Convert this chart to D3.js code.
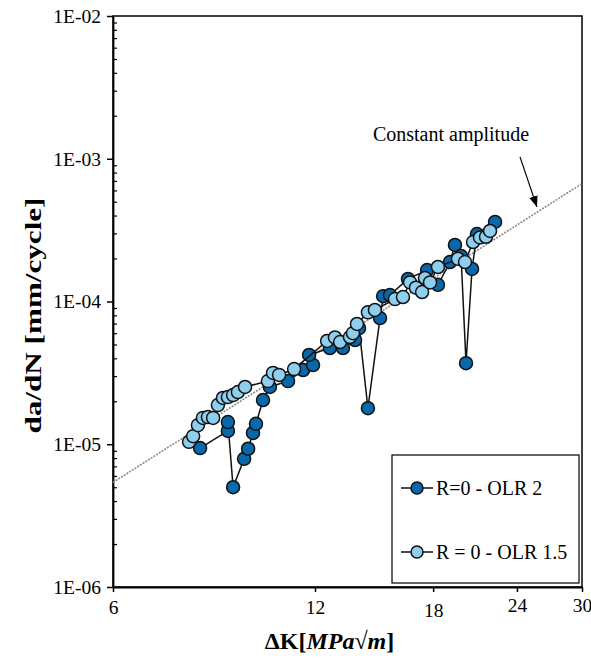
<!DOCTYPE html>
<html lang="en">
<head>
<meta charset="UTF-8">
<title>da/dN vs dK</title>
<script src="https://d3js.org/d3.v7.min.js"></script>
<style>
  body { margin: 0; background: #fff; }
  text { font-family: "Liberation Serif", "Times New Roman", serif; fill: #000; }
</style>
</head>
<body>
<div id="chart"></div>
<script>
// series: R=0 - OLR 2
const kDark = [8.09, 8.90, 8.90, 9.06, 9.41, 9.54, 9.70, 9.80, 10.04, 10.28, 10.94, 11.52, 11.92, 11.76,
  12.63, 13.21, 13.77, 13.96, 14.39, 15.00, 15.16, 15.52, 16.51, 17.63, 18.30, 19.07, 19.40, 19.81,
  20.15, 20.57, 20.92, 22.26];
const rateDark = [9.4e-6, 1.24e-5, 1.43e-5, 5.0e-6, 7.9e-6, 9.3e-6, 1.2e-5, 1.39e-5, 2.04e-5, 2.52e-5,
  2.77e-5, 3.31e-5, 3.59e-5, 4.22e-5, 4.72e-5, 4.72e-5, 5.37e-5, 6.5e-5, 1.79e-5, 7.66e-5, 1.09e-4,
  1.11e-4, 1.44e-4, 1.66e-4, 1.31e-4, 1.89e-4, 2.49e-4, 2.08e-4, 3.7e-5, 1.69e-4, 2.97e-4, 3.61e-4];

// series: R = 0 - OLR 1.5
const kLight = [7.79, 7.90, 8.03, 8.17, 8.31, 8.46, 8.60, 8.75, 8.90, 9.06, 9.21, 9.44, 10.21, 10.39,
  10.61, 11.17, 12.51, 12.85, 13.08, 13.53, 13.67, 13.86, 14.39, 14.74, 15.79, 16.23, 16.63, 16.97,
  17.33, 17.50, 17.81, 18.30, 19.60, 20.08, 20.64, 21.14, 21.58, 21.88];
const rateLight = [1.04e-5, 1.14e-5, 1.36e-5, 1.53e-5, 1.55e-5, 1.53e-5, 1.88e-5, 2.11e-5, 2.14e-5,
  2.21e-5, 2.32e-5, 2.52e-5, 2.77e-5, 3.16e-5, 3.06e-5, 3.36e-5, 5.29e-5, 5.6e-5, 5.2e-5, 5.64e-5,
  6.0e-5, 6.96e-5, 8.4e-5, 8.72e-5, 1.04e-4, 1.075e-4, 1.36e-4, 1.25e-4, 1.165e-4, 1.46e-4, 1.36e-4,
  1.745e-4, 1.99e-4, 1.89e-4, 2.61e-4, 2.81e-4, 2.84e-4, 3.12e-4];

// constant amplitude reference line
const kConst = [6, 30];
const rateConst = [5.4e-6, 6.7e-4];

const xTicks = [6, 12, 18, 24, 30];
const yTicks = [1e-6, 1e-5, 1e-4, 1e-3, 1e-2];
const seriesNames = ["R=0 - OLR 2", "R = 0 - OLR 1.5"];

const margin = {top: 16, right: 9, bottom: 74, left: 113},
  width = 591 - margin.left - margin.right,
  height = 661 - margin.top - margin.bottom;

const svg = d3.select("#chart").append("svg")
    .attr("width", 591)
    .attr("height", 661)
  .append("g")
    .attr("transform", `translate(${margin.left},${margin.top})`);

const x = d3.scaleLog().domain([6, 30]).range([0, width]);
const y = d3.scaleLog().domain([1e-6, 1e-2]).range([height, 0]);

// plot frame
svg.append("rect")
  .attr("width", width).attr("height", height)
  .attr("fill", "none").attr("stroke", "#000").attr("stroke-width", 1.5);

// minor y ticks (inside)
const minor = [];
for (let e = -6; e < -2; e++) for (let m = 2; m <= 9; m++) minor.push(m * Math.pow(10, e));
svg.append("g")
  .call(d3.axisRight(y).tickValues(minor).tickSize(4).tickFormat(""))
  .call(g => g.select(".domain").remove())
  .selectAll("line").attr("stroke-width", 1.2);

// y axis
svg.append("g")
  .call(d3.axisLeft(y).tickValues(yTicks).tickSizeInner(6).tickSizeOuter(0).tickPadding(6)
    .tickFormat(d => "1E-" + String(-Math.round(Math.log10(d))).padStart(2, "0")))
  .call(g => g.select(".domain").attr("stroke-width", 1.8))
  .call(g => g.selectAll("line").attr("stroke-width", 1.5))
  .call(g => g.selectAll("text").attr("font-size", 19.5).attr("font-family", "Liberation Serif"));

// x axis (Excel-like label jitter on 18/24/30)
const labelShift = {18: 3, 24: -2, 30: -2};
svg.append("g")
  .attr("transform", `translate(0,${height})`)
  .call(d3.axisBottom(x).tickValues(xTicks).tickSizeInner(5).tickSizeOuter(0).tickPadding(8)
    .tickFormat(d3.format("d")))
  .call(g => g.select(".domain").attr("stroke-width", 1.8))
  .call(g => g.selectAll("line").attr("stroke-width", 1.5))
  .call(g => g.selectAll("text").attr("font-size", 19.5).attr("font-family", "Liberation Serif")
    .attr("dy", d => (0.71 + (labelShift[d] || 0) / 19) + "em"));

// constant amplitude line
svg.append("path")
  .datum(kConst.map((k, i) => [k, rateConst[i]]))
  .attr("d", d3.line().x(d => x(d[0])).y(d => y(d[1])))
  .attr("fill", "none").attr("stroke", "#8a8a8a").attr("stroke-width", 1.6)
  .attr("stroke-dasharray", "2,1.2");

// series
const series = [
  {k: kDark, r: rateDark, color: "#0868ac"},
  {k: kLight, r: rateLight, color: "#8ecfef"}
];
const line = d3.line().x(d => x(d[0])).y(d => y(d[1]));
series.forEach(s => {
  const pts = s.k.map((k, i) => [k, s.r[i]]);
  svg.append("path").datum(pts).attr("d", line)
    .attr("fill", "none").attr("stroke", "#111").attr("stroke-width", 1.5);
  svg.append("g").selectAll("circle").data(pts).join("circle")
    .attr("cx", d => x(d[0])).attr("cy", d => y(d[1])).attr("r", 6.5)
    .attr("fill", s.color).attr("stroke", "#111").attr("stroke-width", 1.5);
});

// annotation
svg.append("defs").append("marker")
  .attr("id", "arr").attr("viewBox", "0 0 10 10").attr("refX", 10).attr("refY", 5)
  .attr("markerWidth", 9).attr("markerHeight", 9).attr("orient", "auto-start-reverse")
  .append("path").attr("d", "M0,1 L10,5 L0,9 Z").attr("fill", "#000");
svg.append("line")
  .attr("x1", x(24.25)).attr("y1", y(1.03e-3))
  .attr("x2", x(25.7)).attr("y2", y(4.6e-4))
  .attr("stroke", "#000").attr("stroke-width", 1.2).attr("marker-end", "url(#arr)");
svg.append("text")
  .attr("x", x(14.64)).attr("y", y(1.33e-3))
  .attr("font-size", 20).text("Constant amplitude");

// legend
const lg = svg.append("g").attr("transform", `translate(${width - 190},${height - 132})`);
lg.append("rect").attr("width", 187).attr("height", 128)
  .attr("fill", "#fff").attr("stroke", "#000").attr("stroke-width", 1.2);
series.forEach((s, i) => {
  const row = lg.append("g").attr("transform", `translate(9,${33 + i * 64})`);
  row.append("line").attr("x1", 0).attr("x2", 32).attr("stroke", "#111").attr("stroke-width", 1.5);
  row.append("circle").attr("cx", 16).attr("r", 6)
    .attr("fill", s.color).attr("stroke", "#111").attr("stroke-width", 1.5);
  row.append("text").attr("x", 35).attr("dy", "0.35em").attr("font-size", 20).text(seriesNames[i]);
});

// axis titles
svg.append("text")
  .attr("transform", `translate(${-72},${height / 2 + 14}) rotate(-90)`)
  .attr("text-anchor", "middle").attr("font-weight", "bold").attr("font-size", 23)
  .attr("textLength", 236).attr("lengthAdjust", "spacingAndGlyphs")
  .text("da/dN [mm/cycle]");

const xt = svg.append("text")
  .attr("x", width / 2 - 18).attr("y", height + 62)
  .attr("text-anchor", "middle").attr("font-weight", "bold").attr("font-size", 24);
xt.append("tspan").text("ΔK[");
xt.append("tspan").attr("font-style", "italic").text("MPa");
xt.append("tspan").attr("font-weight", "normal").text("√");
xt.append("tspan").attr("font-style", "italic").text("m");
xt.append("tspan").text("]");
</script>
</body>
</html>
